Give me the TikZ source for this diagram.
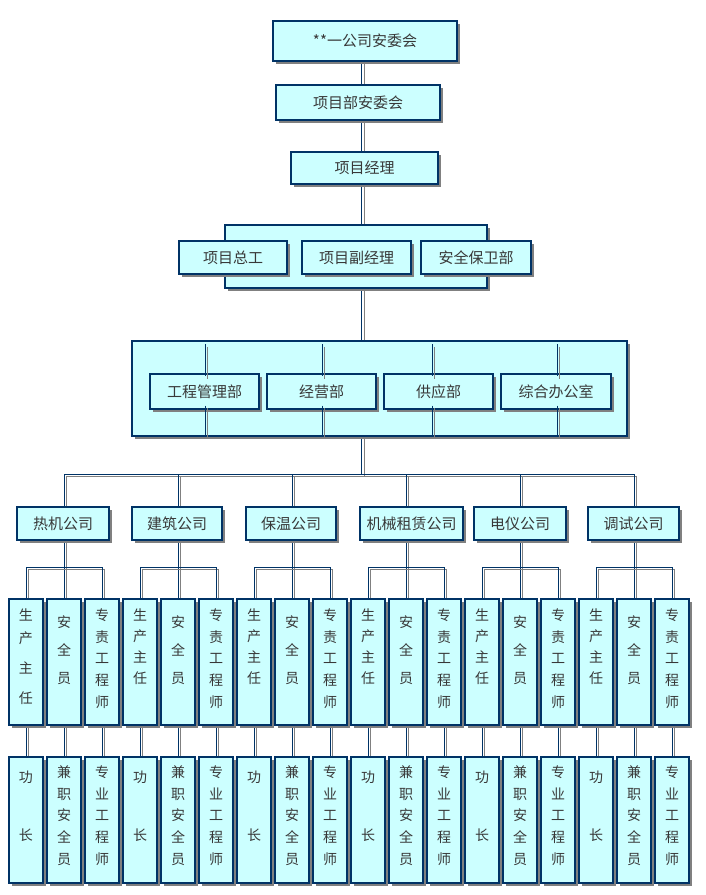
\documentclass[tikz,border=0pt]{standalone}
\usepackage{fontspec}
\newfontfamily\cjk{Noto Sans CJK SC}
\usetikzlibrary{shadows,backgrounds}

\definecolor{boxfill}{HTML}{CCFFFF}
\definecolor{navyline}{HTML}{003366}
\definecolor{greyline}{HTML}{808080}
\definecolor{inkgrey}{HTML}{383838}

% upright text stacked in a tall post box: top gap, line step, lines
\newcommand{\colstack}[3]{\parbox[c][126pt][t]{34pt}{\centering\baselineskip=#2pt\vspace*{#1pt}#3}}

\tikzset{
  unit/.style={draw=navyline, line width=1.2pt, fill=boxfill, text=inkgrey,
    inner sep=0pt, font=\cjk\fontsize{15pt}{18pt}\selectfont,
    drop shadow={shadow xshift=3pt, shadow yshift=-3pt, fill=greyline, opacity=1}},
  post/.style={unit, font=\cjk\fontsize{14pt}{17pt}\selectfont},
  link/.style={draw=navyline, line width=1pt,
    preaction={draw=greyline, line width=1pt, transform canvas={shift={(2.5pt,-2.5pt)}}}}
}

\begin{document}
\begin{tikzpicture}[x=1pt, y=-1pt]
  \useasboundingbox (0,0) rectangle (706,895);

  % --- Head of the chain ---
  \node[unit, minimum width=184pt, minimum height=40pt] (ch) at (365,41) {**一公司安委会};
  \node[unit, minimum width=164pt, minimum height=35pt] (pc) at (358,102.5) {项目部安委会};
  \node[unit, minimum width=147pt, minimum height=32pt] (pm) at (364.5,168) {项目经理};

  % --- Leaders ---
  \node[unit, minimum width=262pt, minimum height=63pt] (g4) at (356,256.5) {};
  \foreach \n/\xc/\w/\txt in {zg/233/108/项目总工, fj/356.5/109/项目副经理, ab/476/110/安全保卫部}
    \node[unit, minimum width=\w pt, minimum height=33pt] (\n) at (\xc,257.5) {\txt};

  % --- Departments ---
  \node[unit, minimum width=495pt, minimum height=95pt] (g5) at (379.5,388.5) {};
  \foreach \i/\xc/\w/\txt in {1/204.5/109/工程管理部, 2/321.5/109/经营部, 3/438.5/109/供应部, 4/556/110/综合办公室}
    \node[unit, minimum width=\w pt, minimum height=35pt] (d\i) at (\xc,391.5) {\txt};
  \foreach \i/\dx in {1/0.5, 2/0.5, 3/-6.5, 4/1}{
    \draw[link] ([xshift=\dx pt, yshift=29pt]d\i.north) -- ([xshift=\dx pt, yshift=-3pt]d\i.north);
    \draw[link] ([xshift=\dx pt, yshift=4pt]d\i.south) -- ([xshift=\dx pt, yshift=-27pt]d\i.south);
  }

  % --- Companies ---
  \foreach \g/\xc/\w/\txt in {1/63/92/热机公司, 2/177/90/建筑公司, 3/291/90/保温公司,
                              4/411.5/103/机械租赁公司, 5/520/92/电仪公司, 6/633.5/91/调试公司}
    \node[unit, minimum width=\w pt, minimum height=33pt] (c\g) at (\xc,523.5) {\txt};

  % --- Posts ---
  \foreach \g in {1,...,6}{
    \foreach \k/\topgap/\topstep/\topword/\lowgap/\lowstep/\lowword in
      {1/9.7/21/{生\\产\\主\\任}/13.7/58/{功\\长},
       2/16.7/28/{安\\全\\员}/8.7/21.7/{兼\\职\\安\\全\\员},
       3/9.7/21.7/{专\\责\\工\\程\\师}/8.7/21.7/{专\\业\\工\\程\\师}}{
      \pgfmathsetmacro{\xc}{26+38*(3*\g+\k-4)}
      \ifnum\g\k=11 \def\topstep{23.3}\def\topword{生\\产\\[6.7pt]主\\[6.7pt]任}\fi
      \node[post] (r\g\k) at (\xc,662) {\colstack{\topgap}{\topstep}{\topword}};
      \node[post] (b\g\k) at (\xc,820) {\colstack{\lowgap}{\lowstep}{\lowword}};
    }
  }

  % --- Links ---
  \coordinate (spine) at (361.5,0);
  \coordinate (bus) at (361.5,474);
  \begin{scope}[on background layer]
    \fill[white] (0,0) rectangle (706,895);
    \foreach \a/\b in {ch/pc, pc/pm, pm/g4, g4/g5}
      \draw[link] (\a.south -| spine) -- (\b.north -| spine);
    \draw[link] (g5.south -| spine) -- (bus);
    \draw[link] (r12 |- c1.north) |- (bus -| r62) -- (r62 |- c6.north);
    \foreach \g in {2,...,5}
      \draw[link] (bus -| r\g2) -- (r\g2 |- c\g.north);
    \foreach \g in {1,...,6}{
      \draw[link] (c\g.south -| r\g2) -- (r\g2.north);
      \draw[link] (r\g1.north) |- ([yshift=31pt]r\g2.north) -| (r\g3.north);
      \foreach \k in {1,2,3}
        \draw[link] (r\g\k.south) -- (b\g\k.north);
    }
  \end{scope}
\end{tikzpicture}
\end{document}
